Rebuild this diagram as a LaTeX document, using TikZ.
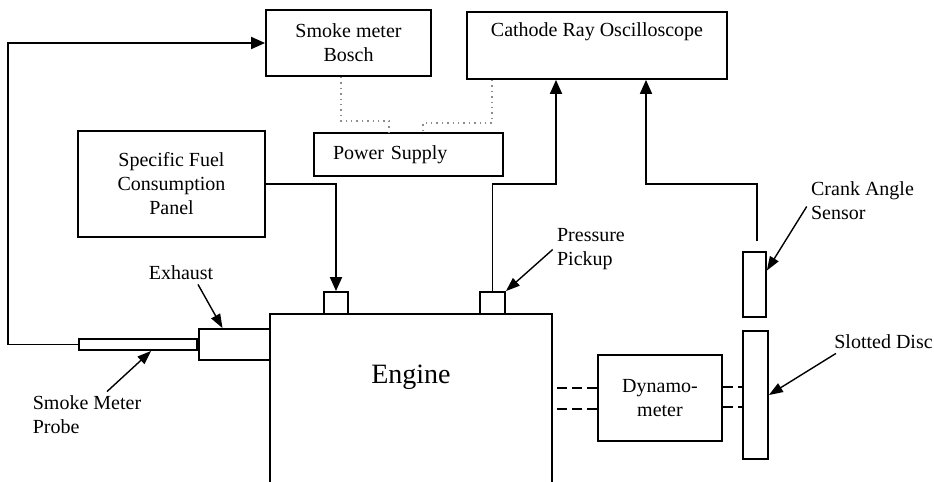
\documentclass[tikz,border=0pt]{standalone}
\usepackage{fontspec}
\setmainfont{Liberation Serif}
\usepackage{tikz}
\usetikzlibrary{arrows.meta,positioning}

\begin{document}
\begin{tikzpicture}[
  x=0.5pt, y=-0.5pt,
  box/.style={rectangle, draw=black, line width=0.9pt, font=\fontsize{10}{12}\selectfont, align=center, inner sep=0pt},
  part/.style={rectangle, draw=black, line width=0.9pt, inner sep=0pt},
  lbl/.style={font=\fontsize{10}{12}\selectfont, align=left, inner sep=2pt},
  arrow/.style={-{Triangle[length=7pt,width=6pt]}, line width=0.9pt},
  pointer/.style={-{Triangle[length=7pt,width=5pt]}, line width=0.7pt},
  shaft/.style={line width=0.9pt, dash pattern=on 5pt off 2.5pt},
  wire/.style={draw=black!45, line width=0.7pt, dotted}
]
\useasboundingbox (0,0) rectangle (934,482);
\clip (0,0) rectangle (934,482);

% Instruments
\node[box, minimum width=82.5pt, minimum height=33pt] (smoke) at (348.5,43) {Smoke meter\\ Bosch};
\node[box, minimum width=130pt, minimum height=33.5pt] (cro) at (597,45.5) {Cathode Ray Oscilloscope\\ \strut};
\node[box, minimum width=94.5pt, minimum height=21.5pt, text width=75.5pt, inner xsep=9.5pt, align=left] (power) at (408.5,154.5) {Power Supply};
\node[box, minimum width=93.5pt, minimum height=53pt] (panel) at (171.5,184) {Specific Fuel\\ Consumption\\ Panel};

% Engine and attached parts
\node[part, minimum width=141pt, minimum height=93pt] (engine) at (411,407) {};
\node[font=\fontsize{14}{16}\selectfont] (engtext) at (411,377) {Engine};
\node[part, minimum width=12pt, minimum height=11pt] (fuelsen) at (336,303) {};
\node[part, minimum width=12.5pt, minimum height=11pt] (pressen) at (492.5,303) {};
\node[part, minimum width=35.5pt, minimum height=15.5pt] (exhaust) at (234.5,344.5) {};
\node[part, minimum width=59pt, minimum height=5.5pt, left=0pt of exhaust] (probe) {};
\node[box, minimum width=62pt, minimum height=43pt] (dyno) at (660,398) {Dynamo-\\ meter};
\node[part, minimum width=11.5pt, minimum height=32.5pt] (crank) at (754.5,284.5) {};
\node[part, minimum width=12.5pt, minimum height=64pt] (disc) at (755.5,395) {};

% Signal lines
\draw[arrow] (probe.west) -- ++(-70,0) |- (smoke.west);
\draw[arrow] (panel.east) -| (fuelsen.north);
\draw[arrow] (pressen.north) -- (pressen.north |- panel.east) -| ([xshift=-20.5pt]cro.south);
\draw[arrow] ([xshift=1.25pt,yshift=5pt]crank.north) -- ([xshift=1.25pt]crank.north |- panel.east) -| ([xshift=24.5pt]cro.south);

% Supply wiring
\draw[wire] ([xshift=-3.75pt]smoke.south) -- ++(0,44) -| ([xshift=-9.75pt]power.north);
\draw[wire] ([xshift=-52.5pt]cro.south) -- ++(0,43) -| ([xshift=7.25pt]power.north);

% Shafts
\draw[shaft] ([yshift=5pt]dyno.west) -- ([yshift=5pt]dyno.west -| engine.east);
\draw[shaft] ([yshift=-5.5pt]dyno.west) -- ([yshift=-5.5pt]dyno.west -| engine.east);
\draw[shaft] ([yshift=5.5pt]dyno.east) -- ([yshift=5.5pt]dyno.east -| disc.west);
\draw[shaft] ([yshift=-4.5pt]dyno.east) -- ([yshift=-4.5pt]dyno.east -| disc.west);

% Labels
\node[lbl] (exlabel) at (181,273) {Exhaust};
\node[lbl] (probelabel) at (87,415) {Smoke Meter\\ Probe};
\node[lbl] (preslabel) at (591,249.5) {Pressure\\ Pickup};
\node[lbl] (cranklabel) at (862.5,200.5) {Crank Angle\\ Sensor};
\node[lbl] (disclabel) at (883.5,342) {Slotted Disc};

\draw[pointer] ([xshift=8.5pt]exlabel.south) -- ([xshift=-6pt]exhaust.north);
\draw[pointer] ([xshift=10pt]probelabel.north) -- ([xshift=6.5pt]probe.south);
\draw[pointer] (preslabel.west) -- (pressen.north east);
\draw[pointer] ([yshift=-3pt]cranklabel.west) -- ([yshift=7pt]crank.east);
\draw[pointer] ([xshift=3pt]disclabel.south west) -- (disc.east);

\end{tikzpicture}
\end{document}
